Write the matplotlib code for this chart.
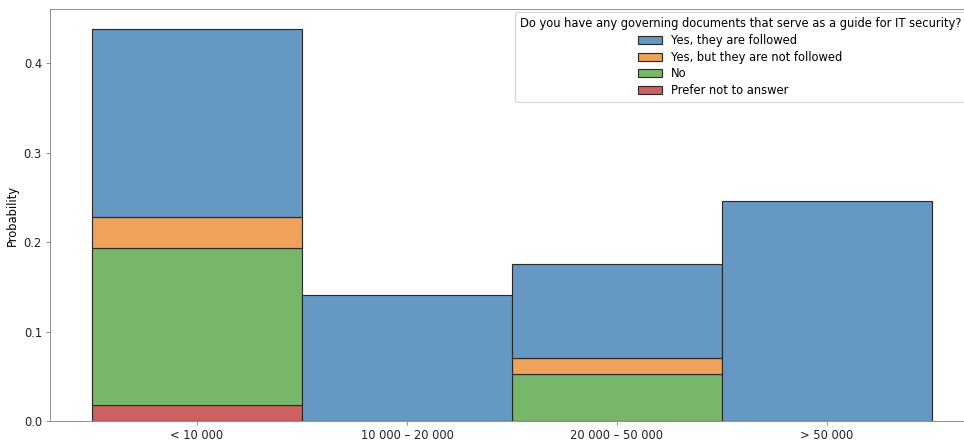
import numpy as np
import matplotlib
matplotlib.use("Agg")
import matplotlib.pyplot as plt

# Revenue bands and answer counts per band
categories = ["< 10 000", "10 000 – 20 000", "20 000 – 50 000", "> 50 000"]
answers = ["Yes, they are followed", "Yes, but they are not followed", "No", "Prefer not to answer"]
followed = [12, 8, 6, 14]
not_followed = [2, 0, 1, 0]
no = [10, 0, 3, 0]
prefer_not = [1, 0, 0, 0]
legend_title = "Do you have any governing documents that serve as a guide for IT security?"

counts = {
    answers[0]: followed,
    answers[1]: not_followed,
    answers[2]: no,
    answers[3]: prefer_not,
}
colors = ["#6698c4", "#f0a15a", "#78b66a", "#ce615f"]

total = sum(sum(v) for v in counts.values())

DPI = 83
fig = plt.figure(figsize=(964 / DPI, 441 / DPI), dpi=DPI)
ax = fig.add_axes([50 / 964, 20 / 441, 924 / 964, 412 / 441])

x = np.arange(len(categories))
bottom = np.zeros(len(categories))
handles = {}
# stack from the last answer at the bottom to the first on top
for name, col in reversed(list(zip(answers, colors))):
    vals = np.array(counts[name]) / total
    bars = ax.bar(x, vals, width=1.0, bottom=bottom, color=col,
                  edgecolor="#2a2a2a", linewidth=1.0)
    handles[name] = bars
    bottom += vals

ax.set_xticks(x)
ax.set_xticklabels(categories)
ax.set_xlim(-0.7, 3.7)
ax.set_ylim(0, bottom.max() * 1.05)
ax.set_ylabel("Probability")
ax.tick_params(colors="#222222", color="#888888")
for s in ax.spines.values():
    s.set_color("#888888")

ax.legend([handles[a] for a in answers], answers, title=legend_title,
          loc="upper right", bbox_to_anchor=(1 - 5 / 924, 1.0),
          labelspacing=0.33, borderaxespad=0.3)

fig.savefig("out.png", dpi=DPI)
